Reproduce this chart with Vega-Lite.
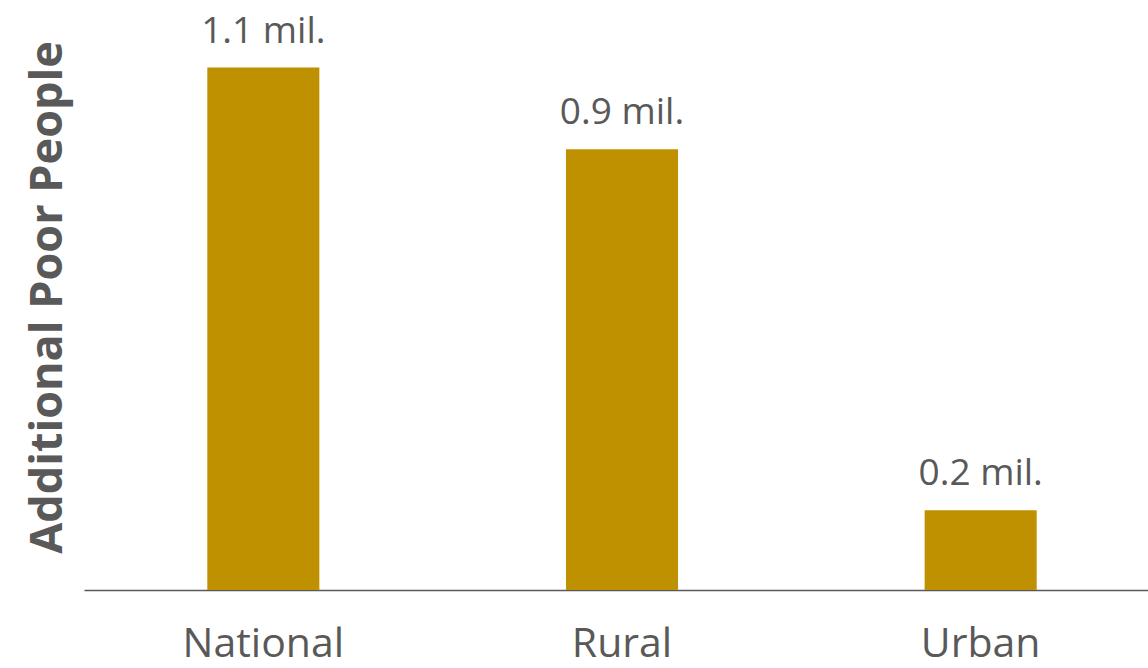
{
  "$schema": "https://vega.github.io/schema/vega-lite/v6.json",
  "autosize": "none",
  "width": 1076,
  "height": 570,
  "padding": {"left": 84, "top": 20, "right": 0, "bottom": 78},
  "background": "white",
  "config": {"view": {"stroke": null}, "font": "Open Sans"},
  "data": {"values": [
    {"area": "National", "value": 1.1, "label": "1.1 mil."},
    {"area": "Rural", "value": 0.928, "label": "0.9 mil."},
    {"area": "Urban", "value": 0.168, "label": "0.2 mil."}
  ]},
  "encoding": {
    "x": {"field": "area", "type": "nominal", "sort": null,
      "scale": {"paddingInner": 0.6876, "paddingOuter": 0.3438},
      "axis": {"title": null, "labelAngle": 0, "ticks": false, "domainColor": "#595959", "domainWidth": 1.5,
        "labelFont": "Open Sans", "labelFontSize": 41, "labelColor": "#595959", "labelBaseline": "alphabetic", "labelPadding": 66}},
    "y": {"field": "value", "type": "quantitative",
      "scale": {"domain": [0, 1.2]},
      "axis": {"title": "Additional Poor People", "labels": false, "ticks": false, "domain": false, "grid": false,
        "titleFont": "Open Sans", "titleFontSize": 45, "titleFontWeight": "bold", "titleColor": "#595959",
        "titleX": -37, "titleY": 277, "titleAngle": -90, "titleAlign": "center", "titleBaseline": "middle"}}
  },
  "layer": [
    {"mark": {"type": "bar", "color": "#BF9000"}},
    {"mark": {"type": "text", "baseline": "alphabetic", "dy": -25, "font": "Open Sans", "fontSize": 37, "color": "#595959"},
      "encoding": {"text": {"field": "label"}}}
  ]
}
